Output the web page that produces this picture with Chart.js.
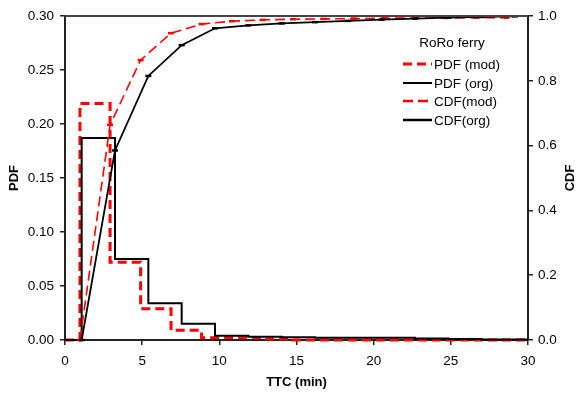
<!DOCTYPE html>
<html lang="en">
<head>
  <meta charset="UTF-8">
  <title>RoRo ferry TTC</title>
  <script src="https://cdn.jsdelivr.net/npm/chart.js"></script>
  <style>
    html, body { margin: 0; padding: 0; background: #fff; }
    #wrap { width: 576px; height: 394px; }
  </style>
</head>
<body>
  <div id="wrap"><canvas id="ttcChart" width="576" height="394"></canvas></div>

  <script>
    // PDF histograms (value holds from x[i] to x[i+1])
    const pdfOrgX = [0, 1.08, 3.24, 5.40, 7.56, 9.72, 11.88, 14.04, 16.20, 18.36, 20.52, 22.68, 24.84, 27.00, 30];
    const pdfOrgY = [0, 0.187, 0.075, 0.034, 0.015, 0.004, 0.003, 0.0025, 0.002, 0.002, 0.002, 0.0015, 0.001, 0.0005, 0.0005];
    const pdfModX = [0, 0.97, 2.92, 4.90, 6.87, 8.85, 10.82, 12.80, 14.77, 30];
    const pdfModY = [0, 0.219, 0.072, 0.029, 0.009, 0.002, 0.002, 0.001, 0, 0];

    // CDF curves
    const cdfOrgX = [1.08, 3.24, 5.40, 7.56, 9.72, 11.88, 14.04, 16.20, 18.36, 20.52, 22.68, 24.84, 27.00, 29.16];
    const cdfOrgY = [0, 0.585, 0.815, 0.91, 0.962, 0.971, 0.977, 0.981, 0.985, 0.989, 0.992, 0.995, 0.997, 0.999];
    const cdfModX = [0.97, 2.92, 4.90, 6.87, 8.85, 10.82, 12.80, 14.77, 16.75, 18.72, 20.70, 22.67, 24.65, 26.62, 28.60];
    const cdfModY = [0, 0.664, 0.864, 0.947, 0.975, 0.984, 0.988, 0.990, 0.991, 0.992, 0.993, 0.994, 0.994, 0.995, 0.995];

    const legendTitle = 'RoRo ferry';
    const FONT = '"Liberation Sans", Arial, sans-serif';

    function toPoints(xs, ys) {
      return xs.map((x, i) => ({ x: x, y: ys[i] }));
    }

    const datasets = [
      {
        label: 'PDF (mod)', data: toPoints(pdfModX, pdfModY), yAxisID: 'y',
        stepped: true, borderColor: '#ff0000', borderWidth: 3, borderDash: [9, 5],
        pointRadius: 0, fill: false, order: 4, clip: 4
      },
      {
        label: 'PDF (org)', data: toPoints(pdfOrgX, pdfOrgY), yAxisID: 'y',
        stepped: true, borderColor: '#000', borderWidth: 2,
        pointRadius: 0, fill: false, order: 3, clip: 4
      },
      {
        label: 'CDF(mod)', data: toPoints(cdfModX, cdfModY), yAxisID: 'y1',
        borderColor: '#ff0000', borderWidth: 1.6, borderDash: [10, 5], tension: 0,
        pointStyle: 'line', pointRadius: 3, pointBorderWidth: 2.5,
        pointBorderColor: '#ff0000', fill: false, order: 2, clip: 4
      },
      {
        label: 'CDF(org)', data: toPoints(cdfOrgX, cdfOrgY), yAxisID: 'y1',
        borderColor: '#000', borderWidth: 1.8, tension: 0,
        pointStyle: 'line', pointRadius: 3, pointBorderWidth: 2.5,
        pointBorderColor: '#000', fill: false, order: 1, clip: 4
      }
    ];

    // top frame line, right axis title and the in-plot legend
    const extras = {
      id: 'extras',
      afterDraw(chart) {
        const c = chart.ctx;
        const area = chart.chartArea;
        c.save();
        c.strokeStyle = '#444';
        c.lineWidth = 2;
        c.beginPath();
        c.moveTo(area.left, area.top);
        c.lineTo(area.right, area.top);
        c.stroke();

        c.fillStyle = '#000';
        c.font = 'bold 13px ' + FONT;
        c.textAlign = 'center';
        c.textBaseline = 'middle';
        c.translate(570, (area.top + area.bottom) / 2);
        c.rotate(-Math.PI / 2);
        c.fillText('CDF', 0, 0);
        c.restore();

        c.save();
        c.font = '13.5px ' + FONT;
        c.fillStyle = '#000';
        c.textAlign = 'center';
        c.textBaseline = 'middle';
        c.fillText(legendTitle, 452, 43);
        const rows = [64, 83, 101, 120];
        c.textAlign = 'left';
        datasets.forEach((ds, i) => {
          const y = rows[i];
          c.strokeStyle = ds.borderColor;
          c.lineWidth = ds.yAxisID === 'y' ? ds.borderWidth : 2.5;
          c.setLineDash(ds.borderDash || []);
          c.beginPath();
          c.moveTo(403, y);
          c.lineTo(432, y);
          c.stroke();
          c.setLineDash([]);
          c.fillText(ds.label, 434, y + 1);
        });
        c.restore();
      }
    };

    const tickFont = { family: FONT, size: 13.5 };
    const titleFont = { family: FONT, size: 13, weight: 'bold' };

    new Chart(document.getElementById('ttcChart').getContext('2d'), {
      type: 'line',
      data: { datasets: datasets },
      options: {
        responsive: false,
        animation: false,
        layout: { padding: { top: 16, left: 0, right: 0, bottom: 0 } },
        plugins: { legend: { display: false }, tooltip: { enabled: false } },
        scales: {
          x: {
            type: 'linear', min: 0, max: 30,
            ticks: { stepSize: 5, color: '#000', font: tickFont, padding: 8, maxRotation: 0 },
            grid: { display: true, drawOnChartArea: false, drawTicks: true, tickLength: 5, color: '#222', lineWidth: 1.5 },
            border: { display: true, color: '#222', width: 2 },
            title: { display: true, text: 'TTC (min)', color: '#000', font: titleFont, padding: { top: 4, bottom: 4 } },
            afterFit(scale) { scale.height = 54; }
          },
          y: {
            position: 'left', min: 0, max: 0.3,
            ticks: { stepSize: 0.05, color: '#000', font: tickFont, padding: 6, callback: v => v.toFixed(2) },
            grid: { display: true, drawOnChartArea: false, drawTicks: true, tickLength: 5, color: '#222', lineWidth: 1.5 },
            border: { display: true, color: '#222', width: 2 },
            title: { display: true, text: 'PDF', color: '#000', font: titleFont, padding: { top: 7, bottom: 0 } },
            afterFit(scale) { scale.width = 65; }
          },
          y1: {
            position: 'right', min: 0, max: 1,
            ticks: { stepSize: 0.2, color: '#000', font: tickFont, padding: 5, callback: v => v.toFixed(1) },
            grid: { display: true, drawOnChartArea: false, drawTicks: true, tickLength: 5, color: '#222', lineWidth: 1.5 },
            border: { display: true, color: '#222', width: 2 },
            afterFit(scale) { scale.width = 48; }
          }
        }
      },
      plugins: [extras]
    });
  </script>
</body>
</html>
